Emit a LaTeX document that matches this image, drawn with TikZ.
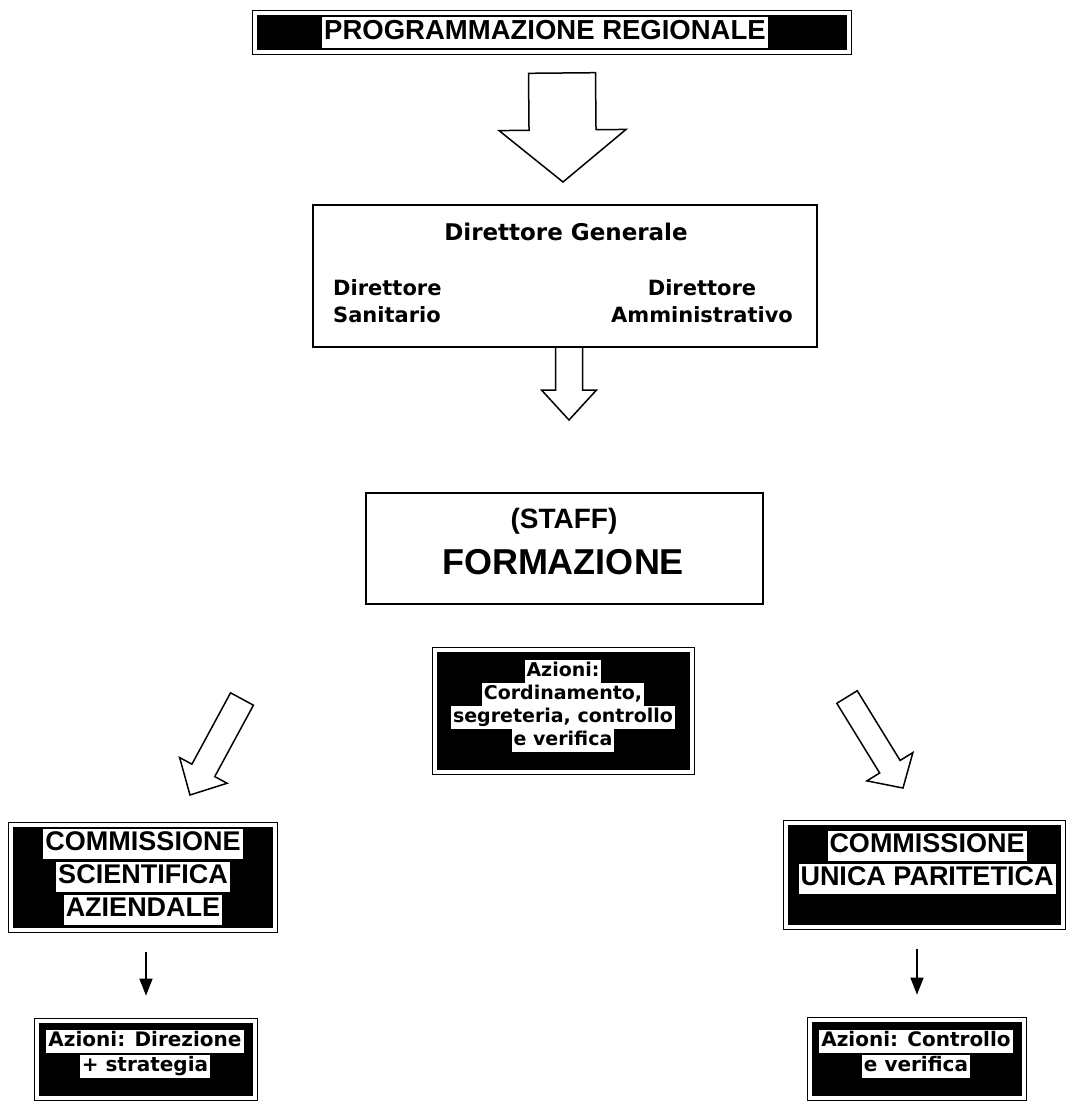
\documentclass[tikz,border=0pt]{standalone}
\usepackage{fontspec}
\setmainfont{Liberation Sans}
\newfontfamily\verdana{DejaVu Sans}
\usetikzlibrary{calc,arrows.meta}

\setlength{\fboxsep}{2pt}
\newcommand{\hl}[1]{\colorbox{white}{\rule[-0.22em]{0pt}{0.95em}#1}}

\tikzset{
  lightbox/.style={draw=black, line width=1.5pt, fill=white, inner sep=0pt},
  darkbox/.style={draw=black, line width=1.1pt, double=white, double distance=4pt, fill=black, inner sep=0pt},
  capstext/.style={font=\bfseries\fontsize{27}{33}\selectfont, align=center, inner sep=0pt},
  smalltext/.style={font=\verdana\bfseries\fontsize{19}{23}\selectfont, align=center, inner sep=0pt},
  medtext/.style={font=\verdana\bfseries\fontsize{20}{25}\selectfont, align=center, inner sep=0pt},
  fatline/.style={draw=black, line width=1.5pt, fill=white, line join=miter},
  thinarrow/.style={line width=1.4pt, -{Triangle[length=17pt,width=13pt]}}
}

% hollow block arrow: tail, tip, half shaft, half head, head length
\newcommand{\fatarrow}[5]{%
  \coordinate (fb) at ($(#2)!#5!(#1)$);
  \draw[fatline] ($(#1)!#3!90:(#2)$) -- ($(fb)!#3!-90:(#1)$)
    -- ($(fb)!#4!-90:(#1)$) -- (#2) -- ($(fb)!#4!90:(#1)$)
    -- ($(fb)!#3!90:(#1)$) -- ($(#1)!#3!-90:(#2)$) -- cycle;
}

\begin{document}
\begin{tikzpicture}[x=1pt, y=-1pt]
  \useasboundingbox (0,0) rectangle (1068,1104);

  % --- Programmazione regionale ---
  \node[darkbox, minimum width=594pt, minimum height=39pt] (pr) at (552,32.5) {};
  \node[capstext, font=\bfseries\fontsize{27.5}{33}\selectfont] (prt) at (545,32.5)
    {\hl{PROGRAMMAZIONE REGIONALE}};

  % --- first block arrow ---
  \coordinate (a1s) at (562,73);
  \coordinate (a1e) at (563,182);
  \fatarrow{a1s}{a1e}{33.5pt}{63.5pt}{52pt}

  % --- Direzione ---
  \node[lightbox, minimum width=504pt, minimum height=142pt] (dir) at (565,276) {};
  \node[font=\verdana\bfseries\fontsize{23}{27}\selectfont, inner sep=0pt] (dgen) at (566,232)
    {Direttore Generale};
  \node[font=\verdana\bfseries\fontsize{21}{27}\selectfont, inner sep=0pt, align=left, anchor=west]
    (dsan) at (333,301.5) {Direttore\\Sanitario};
  \node[font=\verdana\bfseries\fontsize{21}{27}\selectfont, inner sep=0pt, align=center]
    (damm) at (702,301.5) {Direttore\\Amministrativo};

  % --- second block arrow ---
  \coordinate (a2s) at (569,347);
  \coordinate (a2e) at (569,420);
  \fatarrow{a2s}{a2e}{13.5pt}{27.5pt}{30pt}

  % --- Staff ---
  \node[lightbox, minimum width=397pt, minimum height=111pt] (st) at (564.5,548.5) {};
  \node[font=\bfseries\fontsize{28}{33}\selectfont, inner sep=0pt] (stf) at (564,521) {(STAFF)};
  \node[font=\bfseries\fontsize{36}{40}\selectfont, inner sep=0pt] (frm) at (563,562) {FORMAZIONE};

  % --- Azioni staff ---
  \node[darkbox, minimum width=256.6pt, minimum height=121.6pt] (az) at (563.5,711) {};
  \node[smalltext] (azt) at (563,706)
    {\hl{Azioni:}\\\hl{Cordinamento,}\\\hl{segreteria, controllo}\\\hl{e verifica}};

  % --- oblique block arrows ---
  \coordinate (a3s) at (242,699);
  \coordinate (a3e) at (190,795);
  \fatarrow{a3s}{a3e}{13pt}{27pt}{28pt}
  \coordinate (a4s) at (847,697);
  \coordinate (a4e) at (903,788);
  \fatarrow{a4s}{a4e}{12pt}{27pt}{25pt}

  % --- Commissioni ---
  \node[darkbox, minimum width=263.6pt, minimum height=104.6pt] (csa) at (143,877.5) {};
  \node[capstext] (csat) at (143,877)
    {\hl{COMMISSIONE}\\\hl{SCIENTIFICA}\\\hl{AZIENDALE}};
  \node[darkbox, minimum width=276.8pt, minimum height=103.6pt] (cup) at (924.6,875) {};
  \node[capstext] (cupt) at (927,862.5)
    {\hl{COMMISSIONE}\\\hl{UNICA PARITETICA}};

  % --- Azioni commissioni ---
  \node[darkbox, minimum width=217.6pt, minimum height=76.6pt] (ds) at (146,1059.5) {};
  \node[medtext] (dst) at (145,1054) {\hl{Azioni: Direzione}\\\hl{+ strategia}};
  \node[darkbox, minimum width=213.6pt, minimum height=77.6pt] (cv) at (917,1059) {};
  \node[medtext] (cvt) at (916,1054) {\hl{Azioni: Controllo}\\\hl{e verifica}};

  % --- thin arrows ---
  \draw[thinarrow, shorten <=22pt, shorten >=25pt] (csa.south -| ds.north) -- (ds.north);
  \draw[thinarrow, shorten <=22pt, shorten >=25pt] (cup.south -| cv.north) -- (cv.north);

\end{tikzpicture}
\end{document}
